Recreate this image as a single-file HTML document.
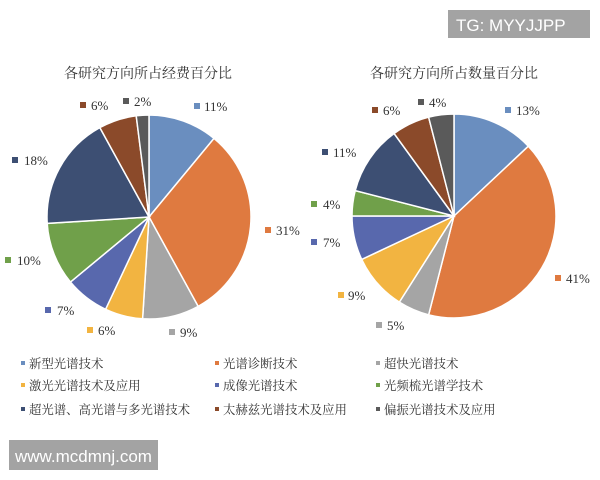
<!DOCTYPE html>
<html><head><meta charset="utf-8"><style>
body{margin:0;background:#fff;width:600px;height:480px;overflow:hidden}
svg{display:block}
text{font-family:"Liberation Serif","Noto Serif CJK SC",serif;fill:#333}
</style></head><body>
<svg id="s" width="600" height="480" viewBox="0 0 600 480">
<text x="148" y="78" font-size="14" text-anchor="middle">各研究方向所占经费百分比</text>
<text x="454" y="78" font-size="14" text-anchor="middle">各研究方向所占数量百分比</text>
<g id="p1"></g><g id="p2"></g>
<g font-size="13">
<rect x="194" y="103" width="6" height="6" fill="#6a8ebf"/><text x="204" y="111">11%</text>
<rect x="80" y="102" width="6" height="6" fill="#8b4a2a"/><text x="91" y="110">6%</text>
<rect x="123" y="98" width="6" height="6" fill="#5a5a5a"/><text x="134" y="106">2%</text>
<rect x="12" y="157" width="6" height="6" fill="#3d4f73"/><text x="24" y="165">18%</text>
<rect x="265" y="227" width="6" height="6" fill="#df7a40"/><text x="276" y="235">31%</text>
<rect x="5" y="257" width="6" height="6" fill="#70a04a"/><text x="17" y="265">10%</text>
<rect x="45" y="307" width="6" height="6" fill="#5868ad"/><text x="57" y="315">7%</text>
<rect x="87" y="327" width="6" height="6" fill="#f2b441"/><text x="98" y="335">6%</text>
<rect x="169" y="329" width="6" height="6" fill="#a5a5a5"/><text x="180" y="337">9%</text>

<rect x="505" y="107" width="6" height="6" fill="#6a8ebf"/><text x="516" y="115">13%</text>
<rect x="372" y="107" width="6" height="6" fill="#8b4a2a"/><text x="383" y="115">6%</text>
<rect x="418" y="99" width="6" height="6" fill="#5a5a5a"/><text x="429" y="107">4%</text>
<rect x="322" y="149" width="6" height="6" fill="#3d4f73"/><text x="333" y="157">11%</text>
<rect x="311" y="201" width="6" height="6" fill="#70a04a"/><text x="323" y="209">4%</text>
<rect x="311" y="239" width="6" height="6" fill="#5868ad"/><text x="323" y="247">7%</text>
<rect x="338" y="292" width="6" height="6" fill="#f2b441"/><text x="348" y="300">9%</text>
<rect x="376" y="322" width="6" height="6" fill="#a5a5a5"/><text x="387" y="330">5%</text>
<rect x="555" y="275" width="6" height="6" fill="#df7a40"/><text x="566" y="283">41%</text>
</g>
<g font-size="12.4">
<rect x="21" y="361" width="4" height="4" fill="#6a8ebf"/><text x="29" y="368">新型光谱技术</text>
<rect x="21" y="383" width="4" height="4" fill="#f2b441"/><text x="29" y="390">激光光谱技术及应用</text>
<rect x="21" y="407" width="4" height="4" fill="#3d4f73"/><text x="29" y="414">超光谱、高光谱与多光谱技术</text>
<rect x="215" y="361" width="4" height="4" fill="#df7a40"/><text x="223" y="368">光谱诊断技术</text>
<rect x="215" y="383" width="4" height="4" fill="#5868ad"/><text x="223" y="390">成像光谱技术</text>
<rect x="215" y="407" width="4" height="4" fill="#8b4a2a"/><text x="223" y="414">太赫兹光谱技术及应用</text>
<rect x="376" y="361" width="4" height="4" fill="#a5a5a5"/><text x="384" y="368">超快光谱技术</text>
<rect x="376" y="383" width="4" height="4" fill="#70a04a"/><text x="384" y="390">光频梳光谱学技术</text>
<rect x="376" y="407" width="4" height="4" fill="#5a5a5a"/><text x="384" y="414">偏振光谱技术及应用</text>
</g>
<rect x="448" y="10" width="142" height="28" fill="#a3a3a3"/>
<text x="456" y="31" font-size="17" style="font-family:'Liberation Sans',sans-serif;fill:#fff">TG: MYYJJPP</text>
<rect x="9" y="440" width="149" height="30" fill="#a3a3a3"/>
<text x="15" y="462" font-size="17" style="font-family:'Liberation Sans',sans-serif;fill:#fff">www.mcdmnj.com</text>
</svg>
<script>
var cols=["#6a8ebf","#df7a40","#a5a5a5","#f2b441","#5868ad","#70a04a","#3d4f73","#8b4a2a","#5a5a5a"];
function pie(id,cx,cy,r,v){var g=document.getElementById(id),a=0,h="";
for(var i=0;i<v.length;i++){var a0=a;a+=v[i]/100*2*Math.PI;
var x0=cx+r*Math.sin(a0),y0=cy-r*Math.cos(a0),x1=cx+r*Math.sin(a),y1=cy-r*Math.cos(a);
h+='<path d="M'+cx+' '+cy+'L'+x0+' '+y0+'A'+r+' '+r+' 0 '+(v[i]>50?1:0)+' 1 '+x1+' '+y1+'Z" fill="'+cols[i]+'" stroke="#fff" stroke-width="1.5"/>';}
g.innerHTML=h;}
pie("p1",149,217,102,[11,31,9,6,7,10,18,6,2]);
pie("p2",454,216,102,[13,41,5,9,7,4,11,6,4]);
</script>
</body></html>
